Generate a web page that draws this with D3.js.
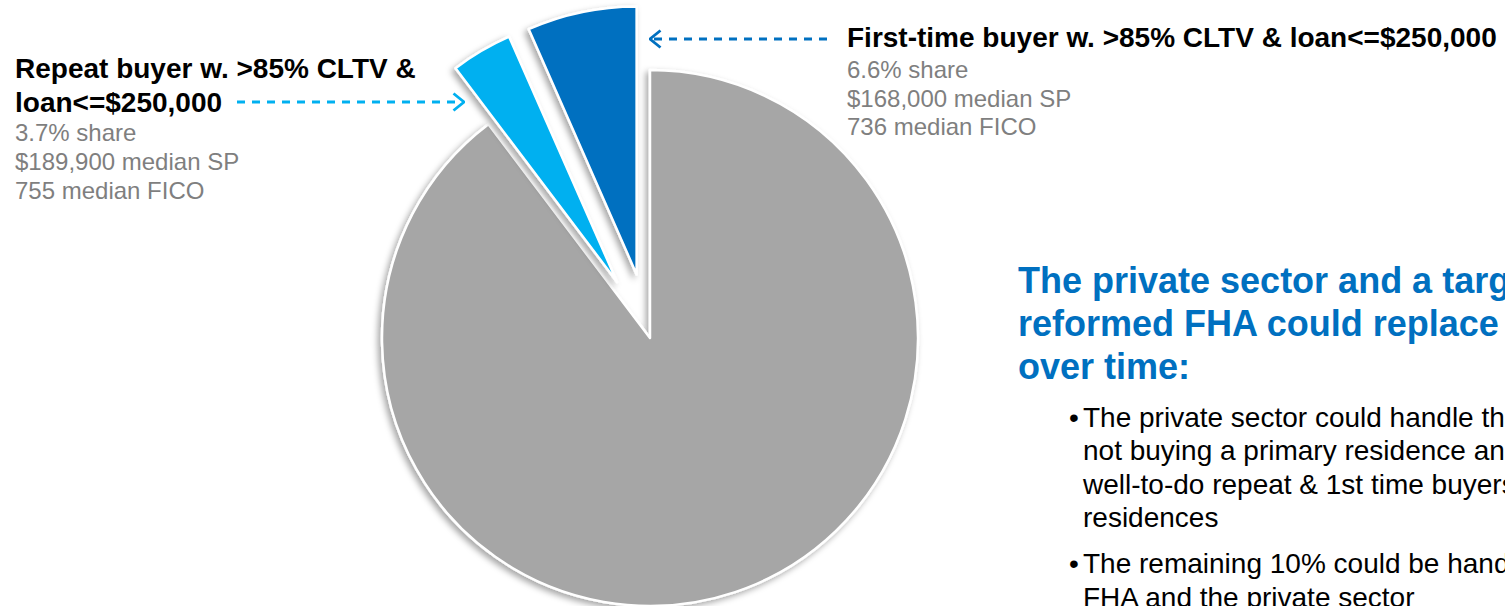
<!DOCTYPE html>
<html>
<head>
<meta charset="utf-8">
<script src="https://cdn.jsdelivr.net/npm/d3@7"></script>
<style>
  html, body { margin: 0; padding: 0; background: #ffffff; }
  svg { display: block; font-family: "Liberation Sans", Arial, sans-serif; }
</style>
</head>
<body>
<svg id="chart" width="1505" height="606"></svg>
<script>
// Purchase-market segments (share of purchase loans, %)
const segments = ["All other purchases", "Repeat buyer w. >85% CLTV & loan<=$250,000", "First-time buyer w. >85% CLTV & loan<=$250,000"];
const shares = [89.7, 3.7, 6.6];
const exploded = [false, true, true];
const sliceColors = ["#a6a6a6", "#00b0f0", "#0070c0"];

// Callout details for the two highlighted segments
const repeatLines = ["3.7% share", "$189,900 median SP", "755 median FICO"];
const firstLines = ["6.6% share", "$168,000 median SP", "736 median FICO"];

// Commentary block
const headingLines = ["The private sector and a targeted", "reformed FHA could replace", "over time:"];
const bullets = [
  ["The private sector could handle the", "not buying a primary residence and", "well-to-do repeat & 1st time buyers", "residences"],
  ["The remaining 10% could be handled", "FHA and the private sector"]
];

const svg = d3.select("#chart");
const defs = svg.append("defs");

const shadow = defs.append("filter").attr("id", "sliceShadow")
  .attr("x", "-20%").attr("y", "-20%").attr("width", "140%").attr("height", "140%");
shadow.append("feDropShadow")
  .attr("dx", -3).attr("dy", 3).attr("stdDeviation", 3)
  .attr("flood-color", "#000").attr("flood-opacity", 0.35);

// Arrow heads (open chevrons)
function chevron(id, color) {
  defs.append("marker").attr("id", id)
    .attr("viewBox", "0 0 13 20").attr("refX", 12).attr("refY", 10)
    .attr("markerWidth", 13).attr("markerHeight", 20)
    .attr("markerUnits", "userSpaceOnUse").attr("orient", "auto")
    .append("path").attr("d", "M1.5,1.5 L12,10 L1.5,18.5")
    .attr("fill", "none").attr("stroke", color).attr("stroke-width", 2.8);
}
chevron("arrowLight", "#00b0f0");
chevron("arrowDark", "#0070c0");

// Pie
const cx = 650, cy = 338, radius = 268, explode = 65;
const pie = d3.pie().sort(null).value(d => d).startAngle(0).endAngle(2 * Math.PI);
const arc = d3.arc().innerRadius(0).outerRadius(radius);
const arcs = pie(shares);

const pieG = svg.append("g").attr("transform", `translate(${cx},${cy})`);
pieG.selectAll("path.slice")
  .data(arcs)
  .join("path")
  .attr("class", "slice")
  .attr("transform", (d, i) => {
    if (!exploded[i]) return null;
    const mid = (d.startAngle + d.endAngle) / 2;
    return `translate(${Math.sin(mid) * explode},${-Math.cos(mid) * explode})`;
  })
  .attr("d", arc)
  .attr("fill", (d, i) => sliceColors[i])
  .attr("stroke", "#ffffff")
  .attr("stroke-width", 2.5)
  .attr("stroke-linejoin", "round")
  .attr("filter", "url(#sliceShadow)");

// Callout arrows
svg.append("line")
  .attr("x1", 237).attr("y1", 102).attr("x2", 464).attr("y2", 102)
  .attr("stroke", "#00b0f0").attr("stroke-width", 2.8)
  .attr("stroke-dasharray", "8,7")
  .attr("marker-end", "url(#arrowLight)");

svg.append("line")
  .attr("x1", 827).attr("y1", 39).attr("x2", 650).attr("y2", 39)
  .attr("stroke", "#0070c0").attr("stroke-width", 2.8)
  .attr("stroke-dasharray", "8,7")
  .attr("marker-end", "url(#arrowDark)");

// Repeat-buyer callout
const leftLabel = svg.append("g");
leftLabel.selectAll("text.title")
  .data(["Repeat buyer w. >85% CLTV &", "loan<=$250,000"])
  .join("text").attr("class", "title")
  .attr("x", 15).attr("y", (d, i) => 78 + i * 34)
  .attr("font-size", 28).attr("font-weight", "bold").attr("fill", "#000")
  .text(d => d);
leftLabel.selectAll("text.detail")
  .data(repeatLines)
  .join("text").attr("class", "detail")
  .attr("x", 15).attr("y", (d, i) => 141 + i * 29)
  .attr("font-size", 24).attr("fill", "#7f7f7f")
  .text(d => d);

// First-time buyer callout
const rightLabel = svg.append("g");
rightLabel.append("text")
  .attr("x", 847).attr("y", 47)
  .attr("font-size", 28).attr("font-weight", "bold").attr("fill", "#000")
  .text(segments[2]);
rightLabel.selectAll("text.detail")
  .data(firstLines)
  .join("text").attr("class", "detail")
  .attr("x", 847).attr("y", (d, i) => 78 + i * 28.5)
  .attr("font-size", 24).attr("fill", "#7f7f7f")
  .text(d => d);

// Commentary
const note = svg.append("g");
note.selectAll("text.heading")
  .data(headingLines)
  .join("text").attr("class", "heading")
  .attr("x", 1018).attr("y", (d, i) => 293 + i * 43)
  .attr("font-size", 36).attr("font-weight", "bold").attr("fill", "#0070c0")
  .text(d => d);

let by = 427;
bullets.forEach((lines, bi) => {
  note.append("text")
    .attr("x", 1069).attr("y", by)
    .attr("font-size", 28).attr("fill", "#000")
    .text("\u2022");
  lines.forEach((ln, li) => {
    note.append("text")
      .attr("x", 1083).attr("y", by + li * 33.3)
      .attr("font-size", 28).attr("fill", "#000")
      .text(ln);
  });
  by += lines.length * 33.3 + 13;
});
</script>
</body>
</html>
